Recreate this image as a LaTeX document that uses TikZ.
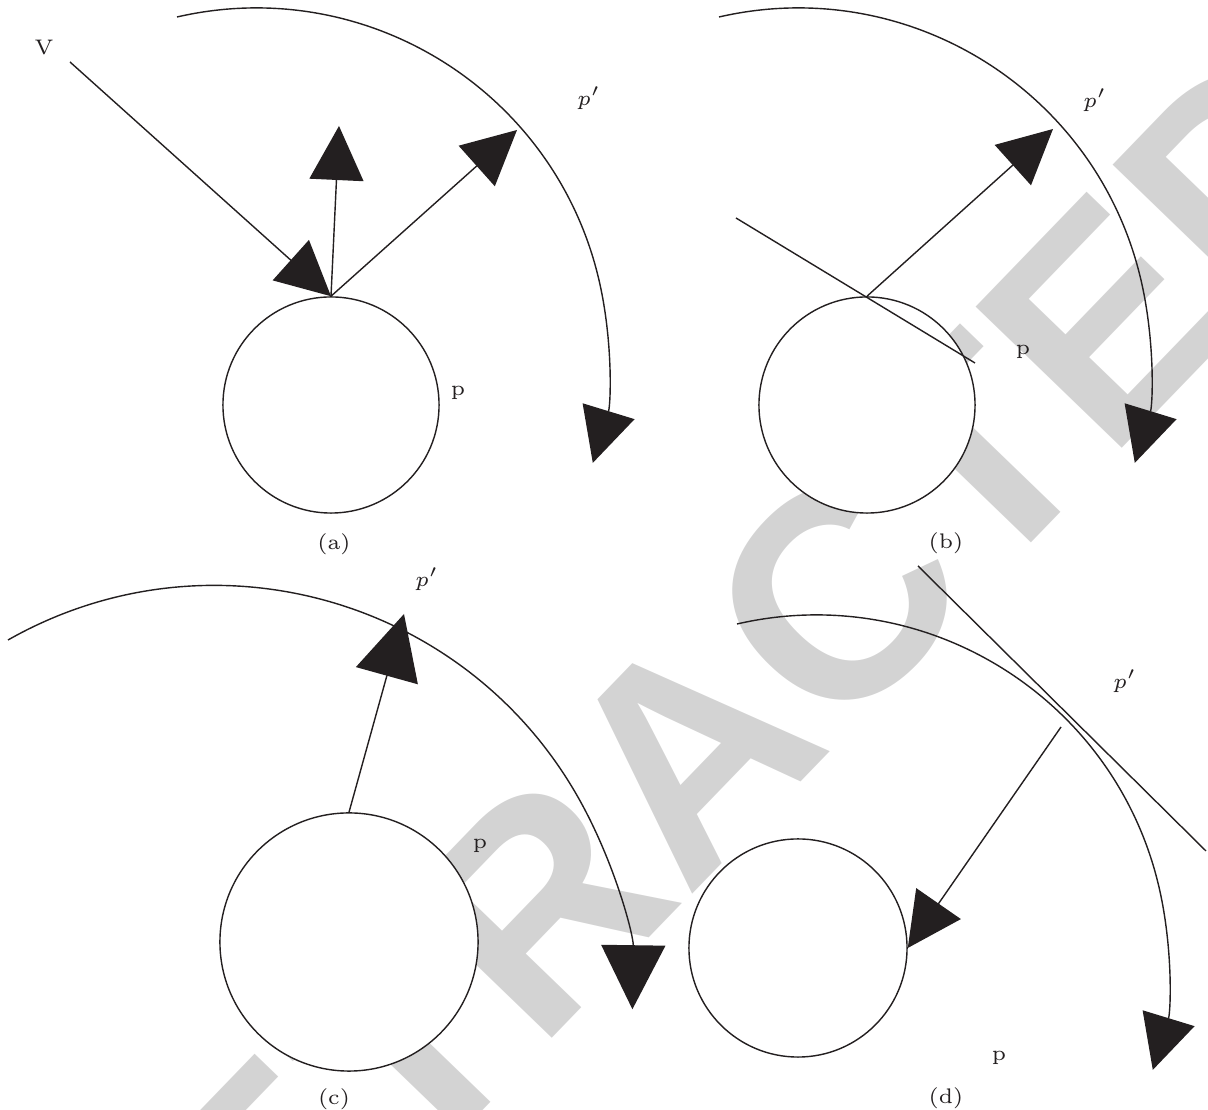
\documentclass[tikz,border=0pt]{standalone}
\usepackage{fontspec}
\usepackage{amsmath}
\usetikzlibrary{arrows.meta}
\newfontfamily\stampfont{Liberation Sans}
\definecolor{ink}{RGB}{35,31,32}
\definecolor{stampgray}{RGB}{211,211,211}

\begin{document}
\begin{tikzpicture}[x=0.01cm, y=-0.01cm, line width=0.4pt, ink,
  ball/.style={circle, draw=ink, fill=white, inner sep=0pt, minimum size=#1},
  bigtip/.style={-{Triangle[length=#1, width=#1]}}, bigtip/.default=5.4mm,
  lbl/.style={font=\fontsize{6}{7}\selectfont, inner sep=0pt},
  stamp/.style={font=\stampfont\bfseries\fontsize{84}{84}\selectfont, text=stampgray, inner sep=0pt}]
  \useasboundingbox (0,0) rectangle (1208,1110); \clip (0,0) rectangle (1208,1110);
  \node[stamp, rotate=46] (wm) at (688,752) {RETRACTED};
  % the four particles
  \node[ball=2.16cm] (pa) at (331,405) {}; \node[ball=2.16cm] (pb) at (867,405) {};
  \node[ball=2.58cm] (pc) at (349,942) {}; \node[ball=2.18cm] (pd) at (798,948) {};
  % (a)
  \node[lbl] (va) at (44,48) {V};
  \coordinate (sa) at (70,62); \coordinate (ua) at (339,126); \coordinate (ra) at (517,130);
  \draw[bigtip] (sa) -- (pa.north); \draw[bigtip] (pa.north) -- (ua); \draw[bigtip] (pa.north) -- (ra);
  \coordinate (arcA) at (177,17); \draw[bigtip] (arcA) arc[start angle=-103, end angle=17, radius=352];
  \node[lbl] (qa) at (589,98) {$p'$}; \node[lbl] (la) at (458,393) {p}; \node[lbl] (ca) at (334,544) {(a)};
  % (b)
  \coordinate (sb) at (736,218); \coordinate (eb) at (975,363); \coordinate (rb) at (1053,129);
  \draw (sb) -- (eb); \draw[bigtip] (pb.north) -- (rb);
  \coordinate (arcB) at (719,17); \draw[bigtip] (arcB) arc[start angle=-103, end angle=17, radius=352];
  \node[lbl] (qb) at (1095,100) {$p'$}; \node[lbl] (lb) at (1023,352) {p}; \node[lbl] (cb) at (946,543) {(b)};
  % (c)
  \coordinate (uc) at (404,614); \draw[bigtip=6.4mm] (pc.north) -- (uc);
  \coordinate (arcC) at (8,640); \draw[bigtip=6.4mm] (arcC) arc[start angle=-119.6, end angle=0.8, radius=418];
  \node[lbl] (qc) at (427,579) {$p'$}; \node[lbl] (lc) at (480,846) {p}; \node[lbl] (cc) at (334,1099) {(c)};
  % (d)
  \coordinate (td1) at (918,566); \coordinate (td2) at (1206,851); \draw (td1) -- (td2);
  \coordinate (sd) at (1061,727); \draw[bigtip] (sd) -- (pd.east);
  \coordinate (arcD) at (737,624); \draw[bigtip] (arcD) arc[start angle=-103, end angle=17, radius=352];
  \node[lbl] (qd) at (1125,681) {$p'$}; \node[lbl] (ld) at (999,1058) {p}; \node[lbl] (cd) at (946,1098) {(d)};
\end{tikzpicture}
\end{document}
